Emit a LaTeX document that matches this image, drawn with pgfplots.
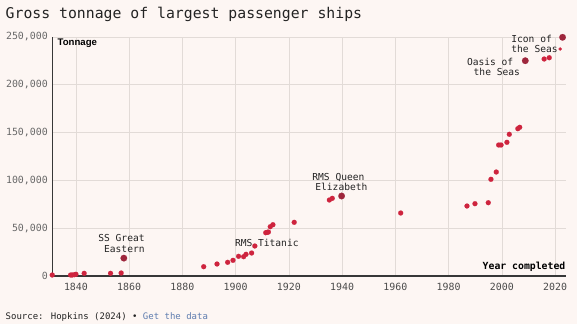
\documentclass[border=0pt]{standalone}
\usepackage{pgfplots}
\pgfplotsset{compat=1.18}
\usepackage{fontspec}
\setmainfont{DejaVu Sans Mono}
\setmonofont{DejaVu Sans Mono}
\setsansfont{Liberation Sans}
\definecolor{bg}{RGB}{253,246,243}
\definecolor{gridc}{RGB}{226,219,215}
\definecolor{axisc}{RGB}{55,55,55}
\definecolor{dotc}{RGB}{206,36,62}
\definecolor{hlc}{RGB}{158,38,60}
\definecolor{ytc}{RGB}{105,105,105}
\definecolor{xtc}{RGB}{75,75,75}
\definecolor{txtc}{RGB}{35,35,35}
\definecolor{linkc}{RGB}{95,125,175}
\begin{document}
\begin{tikzpicture}[x=1bp,y=1bp]
\fill[bg] (0,0) rectangle (577,324);
\begin{axis}[
  at={(52.5bp,48bp)}, anchor=south west,
  scale only axis, width=513.5bp, height=239bp,
  xmin=1831.2, xmax=2024.1, ymin=0, ymax=250000,
  axis lines*=left,
  axis line style={draw=axisc, line width=1.3bp},
  xtick={1840,1860,...,2020},
  ytick={0,50000,100000,150000,200000,250000},
  grid=major, major grid style={draw=gridc, line width=0.7bp},
  major tick length=0pt, tick style={draw=none},
  scaled y ticks=false, scaled x ticks=false, clip=false,
  /pgf/number format/assume math mode=true,
  /pgf/number format/fixed, /pgf/number format/precision=0,
  yticklabel style={/pgf/number format/1000 sep={,},
    font=\fontsize{9.9bp}{10bp}\selectfont, text=ytc, anchor=east, inner sep=0pt, xshift=-4.5bp},
  xticklabel style={/pgf/number format/1000 sep={},
    font=\fontsize{9.9bp}{10bp}\selectfont, text=xtc, anchor=north, inner sep=0pt, yshift=-6.7bp},
]
\addplot[only marks, mark=*, color=dotc, mark size=2.5bp, mark options={line width=0.1bp}] coordinates {
(1831.1,1050) (1838.0,1050) (1838.6,1050) (1839.4,1360) (1840.0,1780)
(1843.1,2820) (1853.0,2820) (1857.0,3140)
(1888.0,9730) (1893.0,12550) (1897.0,14330) (1899.0,16420) (1901.1,20600)
(1903.0,20190) (1903.9,22700) (1906.0,24060) (1907.2,31380)
(1911.3,45290) (1911.9,45710) (1912.3,46020) (1913.0,51570) (1914.0,53660)
(1922.0,56170) (1935.2,79500) (1936.3,81270) (1962.0,65900)
(1986.9,73220) (1989.9,75630) (1994.9,76670) (1995.9,101150) (1997.9,108780)
(1998.8,137030) (1999.7,137030) (2001.9,139850) (2002.8,148220)
(2006.0,154080) (2006.7,155540) (2015.9,226980) (2017.8,228340)
};
\addplot[only marks, mark=*, color=dotc, mark size=1.6bp, mark options={line width=0.1bp}] coordinates {
(2021.9,237440)
};
\addplot[only marks, mark=*, color=hlc, mark size=3.3bp, mark options={line width=0.1bp}] coordinates {
(1858.0,18700) (1939.8,83680) (2008.8,225200) (2022.8,249680)
};
\end{axis}
\tikzset{ann/.style={inner sep=0pt, text=txtc, font=\fontsize{9.6bp}{10bp}\selectfont}}
\node[anchor=base west, inner sep=0pt, text=txtc, font=\fontsize{14.8bp}{16bp}\selectfont] at (5.5,305.5) {Gross tonnage of largest passenger ships};
\node[anchor=base west, inner sep=0pt, text=black, font=\sffamily\bfseries\fontsize{9.6bp}{10bp}\selectfont] at (57.5,278.3) {Tonnage};
\node[anchor=base east, inner sep=0pt, text=black, font=\bfseries\fontsize{9.8bp}{10bp}\selectfont] at (565.5,55) {Year completed};
\node[ann, anchor=base east] at (144.8,82.3) {SS Great};
\node[ann, anchor=base east] at (144.8,71.7) {Eastern};
\node[ann, anchor=base west] at (234.8,78) {RMS Titanic};
\node[ann, anchor=base west] at (312.2,144) {RMS Queen};
\node[ann, anchor=base west] at (315.2,133.3) {Elizabeth};
\node[ann, anchor=base west] at (466.8,258.3) {Oasis of};
\node[ann, anchor=base west] at (473.5,249) {the Seas};
\node[ann, anchor=base west] at (511.2,282) {Icon of};
\node[ann, anchor=base west] at (511.2,271.3) {the Seas};
\node[anchor=base west, inner sep=0pt, font=\fontsize{9bp}{10bp}\selectfont] at (5.5,4.5) {\textcolor{txtc}{Source: Hopkins (2024) • }\textcolor{linkc}{Get the data}};
\end{tikzpicture}
\end{document}
